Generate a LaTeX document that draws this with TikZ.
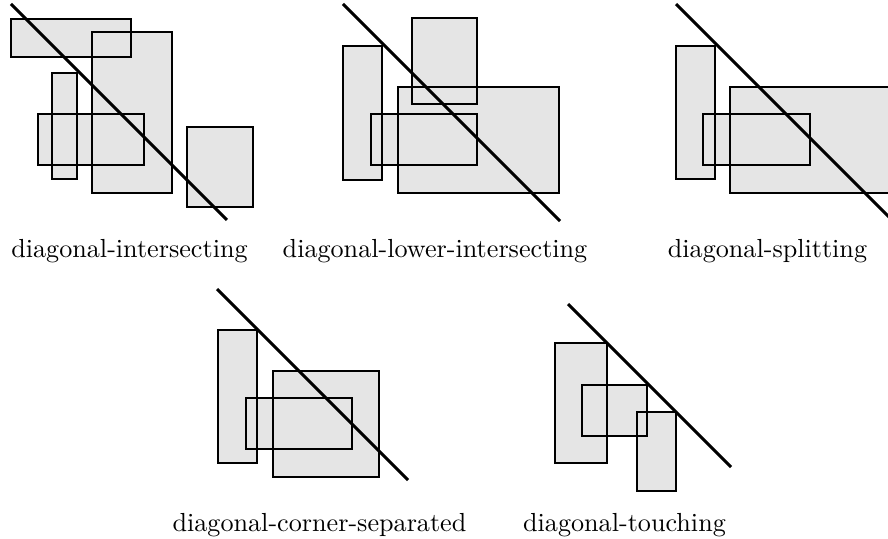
\documentclass[tikz,border=0pt]{standalone}
\usepackage{tikz}

\tikzset{
  box/.style={fill=black!10},
  edge/.style={line width=1.1pt},
  caption/.style={anchor=base,inner sep=0pt},
}
% fills first, outlines on top
\newcommand{\rects}[1]{
  \foreach \xa/\ya/\xb/\yb in {#1} { \fill[box] (\xa,\ya) rectangle (\xb,\yb) ; }
  \foreach \xa/\ya/\xb/\yb in {#1} { \draw[edge] (\xa,\ya) rectangle (\xb,\yb) ; }
}

\begin{document}
\begin{tikzpicture}[x=0.3825pt,y=-0.3825pt]
    \useasboundingbox (0,0) rectangle (888,539) ;
    \clip (0,0) rectangle (888,539) ;
    % top row
    \rects{11/19/131/57, 92/32/172/193, 52/73/77/179, 38/114/144/165, 187/127/253/207}
    \draw[edge] (11,4) -- (227,220) ;
    \rects{343/46/382/180, 412/18/477/104, 398/87/559/193, 371/114/477/165}
    \draw[edge] (343,4) -- (560,221) ;
    \rects{676/46/715/179, 730/87/891/193, 703/114/810/165}
    \draw[edge] (676,4) -- (892,220) ;
    % bottom row
    \rects{218/330/257/463, 273/371/379/477, 246/398/352/449}
    \draw[edge] (217,289) -- (408,480) ;
    \rects{555/343/607/463, 582/385/647/436, 637/412/676/491}
    \draw[edge] (568,304) -- (731,467) ;
    \node[caption] (inter) at (129.5,257.7) {diagonal-intersecting} ;
    \node[caption] (lower) at (435,257.7) {diagonal-lower-intersecting} ;
    \node[caption] (split) at (767.5,257.7) {diagonal-splitting} ;
    \node[caption] (corner) at (319.5,531.7) {diagonal-corner-separated} ;
    \node[caption] (touch) at (624.5,531.7) {diagonal-touching} ;
  \end{tikzpicture}
\end{document}
